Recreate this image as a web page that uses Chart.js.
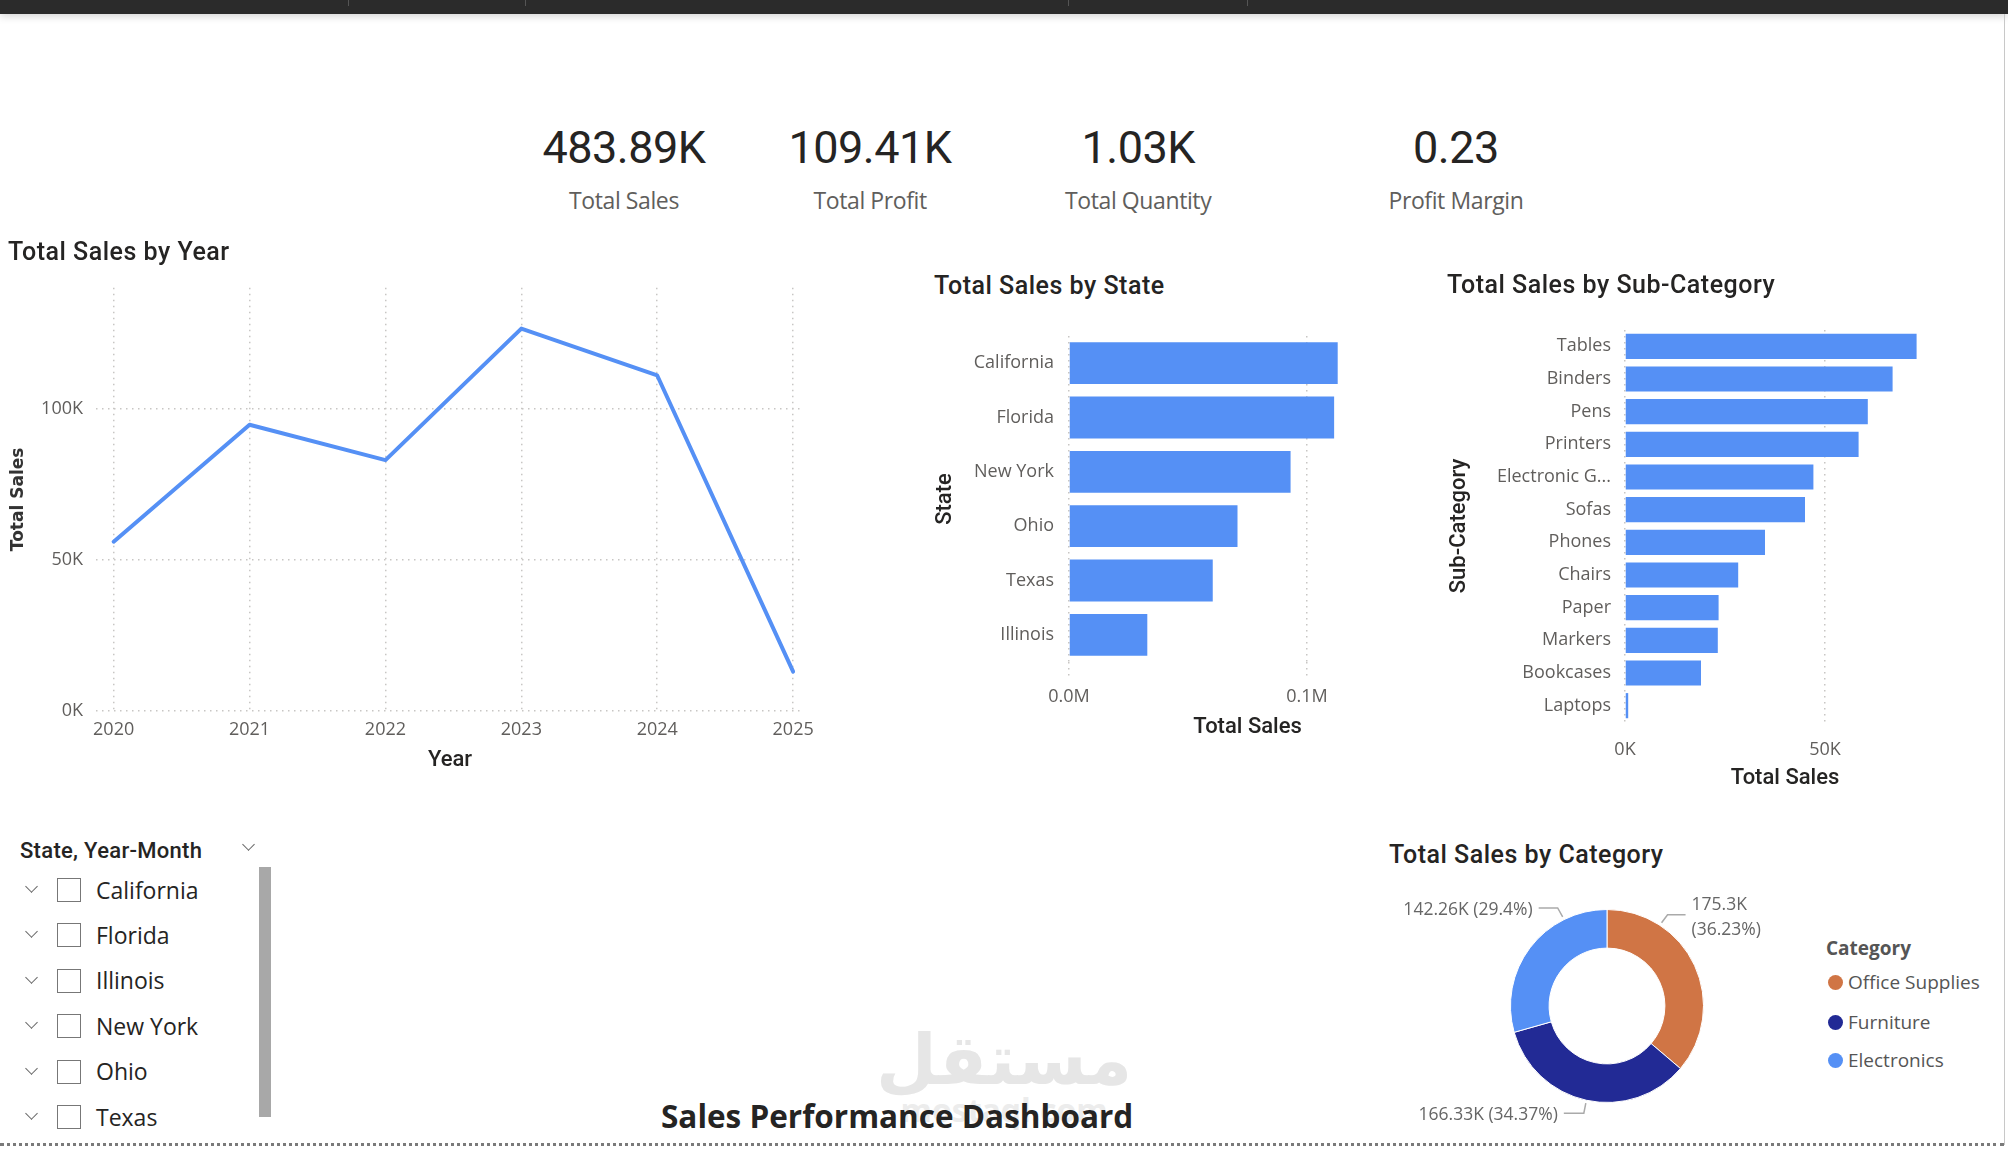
<!DOCTYPE html>
<html>
<head>
<meta charset="utf-8">
<title>Sales Performance Dashboard</title>
<script src="https://cdn.jsdelivr.net/npm/chart.js@4.4.1/dist/chart.umd.min.js"></script>
<style>
  html, body { margin: 0; padding: 0; background: #fff; }
  body { width: 2008px; height: 1158px; position: relative; overflow: hidden;
         font-family: 'Open Sans', sans-serif; color: #252423; }
  canvas { position: absolute; }
  #topbar { position: absolute; left: 0; top: 0; width: 2008px; height: 14px; background: #2b2b2b;
            box-shadow: 0 2px 8px rgba(0,0,0,0.18); }
  .sep { position: absolute; top: 0; width: 1px; height: 6px; background: #555; }
  #rightline { position: absolute; left: 2004px; top: 14px; width: 1px; height: 1131px; background: #c8c8c8; }
  #bottomline { position: absolute; left: 0; top: 1143px; width: 2004px; border-top: 3px dotted #7a7a7a; }
  .chev { position: absolute; width: 8px; height: 8px; border-right: 1.5px solid #666; border-bottom: 1.5px solid #666;
          transform: rotate(45deg); }
  .box { position: absolute; width: 22px; height: 22px; border: 1.5px solid #777; background: #fff; }
  #scroll { position: absolute; left: 259px; top: 867px; width: 12px; height: 250px; background: #a8a8a8; }
  .dot { position: absolute; width: 15px; height: 15px; border-radius: 50%; }
</style>
</head>
<body>
<div id="topbar"></div>
<div class="sep" style="left:348px"></div>
<div class="sep" style="left:525px"></div>
<div class="sep" style="left:1068px"></div>
<div class="sep" style="left:1247px"></div>
<div id="rightline"></div>
<div id="bottomline"></div>
<div id="scroll"></div>

<canvas id="lineChart" width="830" height="516" style="left:0px;top:264px"></canvas>
<canvas id="stateChart" width="520" height="450" style="left:920px;top:300px"></canvas>
<canvas id="subChart" width="530" height="500" style="left:1430px;top:300px"></canvas>
<canvas id="catChart" width="420" height="260" style="left:1397px;top:876px"></canvas>

<script>
// ---- data ----
const kpiValues = ['483.89K', '109.41K', '1.03K', '0.23'];
const kpiLabels = ['Total Sales', 'Total Profit', 'Total Quantity', 'Profit Margin'];

const years = [2020, 2021, 2022, 2023, 2024, 2025];
const salesByYear = [56000, 94700, 83000, 126500, 111000, 13000];
const yearTicks = [0, 50000, 100000];

const states = ['California', 'Florida', 'New York', 'Ohio', 'Texas', 'Illinois'];
const salesByState = [112900, 111400, 93100, 70800, 60400, 32900];
const stateTicks = [0, 100000];

const subCategories = ['Tables', 'Binders', 'Pens', 'Printers', 'Electronic Games', 'Sofas',
                       'Phones', 'Chairs', 'Paper', 'Markers', 'Bookcases', 'Laptops'];
const salesBySub = [72900, 66900, 60700, 58400, 47100, 45000, 35000, 28300, 23400, 23200, 19000, 800];
const subTicks = [0, 50000];

const categories = ['Office Supplies', 'Furniture', 'Electronics'];
const salesByCategory = [175300, 166330, 142260];

// ---- styles ----
const BLUE = '#5590f5';
const catColors = ['#d07545', '#222a95', '#5590f5'];
const GRID = '#c8c6c4';
const TICK = '#605e5c';
const DARK = '#252423';
const DOTS = [1.5, 4.5];
const titleFont = { family: 'Roboto', size: 22, weight: '500' };

Chart.defaults.font.family = "'Open Sans', sans-serif";
Chart.defaults.color = TICK;

function addText(txt, x, y, css, align) {
  const d = document.createElement('div');
  d.textContent = txt;
  d.style.cssText = 'position:absolute;white-space:nowrap;line-height:1;' + css;
  document.body.appendChild(d);
  const w = d.offsetWidth, h = d.offsetHeight;
  d.style.left = (align === 'center' ? x - w / 2 : align === 'right' ? x - w : x) + 'px';
  d.style.top = (y - h / 2) + 'px';
  return d;
}

// KPI cards
const kpiX = [624, 870, 1138, 1456];
kpiValues.forEach((v, i) => {
  addText(v, kpiX[i], 147, "font-family:Roboto;font-size:45px;letter-spacing:-0.5px;color:#252423;", 'center');
  addText(kpiLabels[i], kpiX[i], 200, "font-size:23px;letter-spacing:-0.4px;color:#605e5c;", 'center');
});

// visual titles
const tCss = "font-family:Roboto;font-weight:500;font-size:25px;letter-spacing:0.5px;color:#252423;";
addText('Total Sales by Year', 8, 251, tCss, 'left');
addText('Total Sales by State', 934, 285, tCss, 'left');
addText('Total Sales by Sub-Category', 1447, 284, tCss, 'left');
addText('Total Sales by Category', 1389, 854, tCss, 'left');

// watermark + page title
addText('مستقل', 1004, 1060, "font-family:'DejaVu Sans';font-weight:bold;font-size:70px;color:#e6e6e6;", 'center');
addText('mostaql.com', 1004, 1110, "font-family:'Open Sans';font-weight:bold;font-size:32px;color:#ececec;", 'center');
addText('Sales Performance Dashboard', 897, 1116, "font-weight:bold;font-size:31.5px;color:#252423;", 'center');

// slicer
addText('State, Year-Month', 20, 851, "font-family:Roboto;font-weight:500;font-size:22px;letter-spacing:0.3px;color:#252423;", 'left');
const hc = document.createElement('div'); hc.className = 'chev';
hc.style.left = '244px'; hc.style.top = '840px'; document.body.appendChild(hc);
[...states].sort().forEach((s, i) => {
  const cy = 890 + i * 45.4;
  const c = document.createElement('div'); c.className = 'chev';
  c.style.left = '27px'; c.style.top = (cy - 8) + 'px'; document.body.appendChild(c);
  const b = document.createElement('div'); b.className = 'box';
  b.style.left = '57px'; b.style.top = (cy - 12) + 'px'; document.body.appendChild(b);
  addText(s, 96, cy, "font-size:23px;color:#252423;", 'left');
});

// category legend
addText('Category', 1826, 948, "font-weight:bold;font-size:19px;color:#555;", 'left');
const legY = [982, 1022, 1060];
categories.forEach((c, i) => {
  const d = document.createElement('div'); d.className = 'dot';
  d.style.left = '1828px'; d.style.top = (legY[i] - 7) + 'px'; d.style.background = catColors[i];
  document.body.appendChild(d);
  addText(c, 1848, legY[i], "font-size:19px;color:#555;", 'left');
});

// ---- line chart ----
new Chart(document.getElementById('lineChart'), {
  type: 'line',
  data: {
    datasets: [{
      data: years.map((y, i) => ({ x: y, y: salesByYear[i] })),
      borderColor: BLUE, borderWidth: 4, pointRadius: 0, tension: 0,
      borderJoinStyle: 'round', borderCapStyle: 'round'
    }]
  },
  options: {
    responsive: false, animation: false,
    layout: { padding: { top: 12, right: 26, left: 0, bottom: 0 } },
    plugins: { legend: { display: false }, tooltip: { enabled: false } },
    scales: {
      x: {
        type: 'linear', min: 2019.87, max: 2025.08,
        afterBuildTicks: s => { s.ticks = years.map(v => ({ value: v })); },
        afterFit: s => { s.height = 69; },
        grid: { color: GRID, lineWidth: 1.5, drawTicks: false },
        border: { display: false, dash: DOTS },
        ticks: { padding: 8, color: TICK, font: { size: 18 }, callback: v => String(v) },
        title: { display: true, text: 'Year', color: DARK, font: titleFont, padding: { top: 0, bottom: 6 } }
      },
      y: {
        min: 0, max: 140000,
        afterBuildTicks: s => { s.ticks = yearTicks.map(v => ({ value: v })); },
        afterFit: s => { s.width = 96; },
        grid: { color: GRID, lineWidth: 1.5, drawTicks: false },
        border: { display: false, dash: DOTS },
        ticks: { padding: 13, color: TICK, font: { size: 18 }, callback: v => (v / 1000) + 'K' },
        title: { display: true, text: 'Total Sales', color: '#333', font: { family: 'DejaVu Sans', size: 17, weight: 'bold' },
                 padding: { top: 8, bottom: 0 } }
      }
    }
  }
});

// ---- bar chart helper ----
function barChart(id, labels, values, o) {
  return new Chart(document.getElementById(id), {
    type: 'bar',
    data: { labels, datasets: [{ data: values, backgroundColor: BLUE, barPercentage: 0.77, categoryPercentage: 1 }] },
    options: {
      indexAxis: 'y', responsive: false, animation: false,
      layout: { padding: { top: o.padTop, right: o.padRight, left: 0, bottom: 0 } },
      plugins: { legend: { display: false }, tooltip: { enabled: false } },
      scales: {
        x: {
          min: 0, max: o.max,
          afterBuildTicks: s => { s.ticks = o.ticks.map(v => ({ value: v })); },
          afterFit: s => { s.height = o.xHeight; },
          grid: { color: GRID, lineWidth: 1.5, drawTicks: o.tickLen > 0, tickLength: o.tickLen,
                  tickColor: GRID, tickBorderDash: DOTS },
          border: { display: false, dash: DOTS },
          ticks: { padding: o.xPad, color: TICK, font: { size: 18 }, callback: o.fmt },
          title: { display: true, text: 'Total Sales', color: DARK, font: titleFont, padding: { top: 0, bottom: o.xTitlePad } }
        },
        y: {
          afterFit: s => { s.width = o.yWidth; },
          grid: { display: false, drawTicks: false },
          border: { display: false },
          ticks: {
            padding: o.yPad, color: TICK, font: { size: 18 },
            callback: function (v) { const l = this.getLabelForValue(v); return l.length > 12 ? l.slice(0, 12) + '...' : l; }
          },
          title: { display: true, text: o.yTitle, color: DARK, font: titleFont, padding: { top: o.yTitlePad, bottom: 0 } }
        }
      }
    }
  });
}

barChart('stateChart', states, salesByState, {
  max: 150000, ticks: stateTicks, fmt: v => (v / 1e6).toFixed(1) + 'M',
  padTop: 36, padRight: 14, xHeight: 88, yWidth: 149, tickLen: 17, xPad: 7, xTitlePad: 9,
  yPad: 15, yTitle: 'State', yTitlePad: 12
});

barChart('subChart', subCategories, salesBySub, {
  max: 80000, ticks: subTicks, fmt: v => (v / 1000) + 'K',
  padTop: 30, padRight: 15, xHeight: 78, yWidth: 195, tickLen: 0, xPad: 17, xTitlePad: 8,
  yPad: 14, yTitle: 'Sub-Category', yTitlePad: 16
});

// ---- donut ----
const leaders = [
  { frac: 0.255, dx: 6, dy: -8, run: 18 },
  { frac: 0.5, dx: -2, dy: 10, run: -20 },
  { frac: 0.75, dx: -5, dy: -9, run: -19 }
];
const trim = n => String(parseFloat(n.toFixed(2)));

const donutLabels = {
  id: 'donutLabels',
  afterDatasetsDraw(chart) {
    const ctx = chart.ctx;
    const total = salesByCategory.reduce((a, b) => a + b, 0);
    chart.getDatasetMeta(0).data.forEach((arc, i) => {
      const p = arc.getProps(['x', 'y', 'startAngle', 'endAngle', 'outerRadius'], true);
      const L = leaders[i];
      const a = p.startAngle + L.frac * (p.endAngle - p.startAngle);
      const ax = p.x + Math.cos(a) * (p.outerRadius + 3), ay = p.y + Math.sin(a) * (p.outerRadius + 3);
      const ex = ax + L.dx, ey = ay + L.dy, hx = ex + L.run;
      ctx.save();
      ctx.strokeStyle = '#aaa'; ctx.lineWidth = 1.5;
      ctx.beginPath(); ctx.moveTo(ax, ay); ctx.lineTo(ex, ey); ctx.lineTo(hx, ey); ctx.stroke();
      const val = trim(salesByCategory[i] / 1000) + 'K';
      const pct = '(' + trim(salesByCategory[i] / total * 100) + '%)';
      ctx.fillStyle = '#666'; ctx.font = "17.5px 'Open Sans'"; ctx.textBaseline = 'middle';
      if (L.run > 0) {
        ctx.textAlign = 'left';
        ctx.fillText(val, hx + 6, ey - 10);
        ctx.fillText(pct, hx + 6, ey + 15);
      } else {
        ctx.textAlign = 'right';
        ctx.fillText(val + ' ' + pct, hx - 6, ey + 2);
      }
      ctx.restore();
    });
  }
};

new Chart(document.getElementById('catChart'), {
  type: 'doughnut',
  data: { labels: categories, datasets: [{ data: salesByCategory, backgroundColor: catColors, borderWidth: 1, borderColor: '#fff' }] },
  options: {
    responsive: false, animation: false, cutout: '60%',
    layout: { padding: { top: 33, bottom: 33, left: 113, right: 113 } },
    plugins: { legend: { display: false }, tooltip: { enabled: false } }
  },
  plugins: [donutLabels]
});
</script>
</body>
</html>
